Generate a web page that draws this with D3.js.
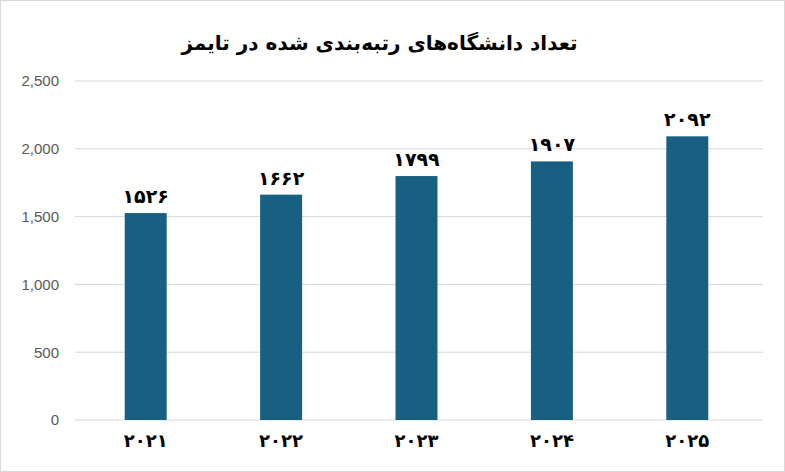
<!DOCTYPE html>
<html><head><meta charset="utf-8">
<script src="https://cdn.jsdelivr.net/npm/d3@7"></script>
<style>body{margin:0;background:#fff}</style>
</head><body><div id="chart"></div>
<script>
// chart data
const years = ["۲۰۲۱", "۲۰۲۲", "۲۰۲۳", "۲۰۲۴", "۲۰۲۵"];
const counts = [1526, 1662, 1799, 1907, 2092];
const countLabels = ["۱۵۲۶", "۱۶۶۲", "۱۷۹۹", "۱۹۰۷", "۲۰۹۲"];
const yTicks = [0, 500, 1000, 1500, 2000, 2500];

const width = 785, height = 472;
const margin = {top: 81, right: 22, bottom: 52, left: 78};

const svg = d3.select("#chart").append("svg")
  .attr("width", width).attr("height", height);

svg.append("rect").attr("x", 0.5).attr("y", 0.5)
  .attr("width", width - 1).attr("height", height - 1)
  .attr("fill", "#fff").attr("stroke", "#d9d9d9");

svg.append("text")
  .attr("x", width / 2 - 13).attr("y", 50)
  .attr("text-anchor", "middle")
  .style("font-family", "'DejaVu Sans', 'Noto Sans'")
  .style("font-weight", "bold").style("font-size", "20px")
  .attr("direction", "rtl")
  .text("تعداد دانشگاه‌های رتبه‌بندی شده در تایمز");

const x = d3.scaleBand(d3.range(years.length), [margin.left, width - margin.right - 8])
  .paddingInner(0.69).paddingOuter(0.345);
const y = d3.scaleLinear([0, 2500], [height - margin.bottom, margin.top]);

// gridlines
svg.append("g").selectAll("line").data(yTicks).join("line")
  .attr("x1", margin.left - 3).attr("x2", width - margin.right)
  .attr("y1", d => y(d)).attr("y2", d => y(d))
  .attr("stroke", "#d9d9d9");

const yAxis = svg.append("g")
  .attr("transform", `translate(${margin.left - 16},0)`)
  .call(d3.axisLeft(y).tickValues(yTicks).tickSize(0).tickFormat(d3.format(",")));
yAxis.select(".domain").remove();
yAxis.selectAll("text").style("font-family", "'Liberation Sans', Arial")
  .style("font-size", "15px").attr("fill", "#595959");

svg.append("g").selectAll("rect").data(counts).join("rect")
  .attr("x", (d, i) => x(i)).attr("width", x.bandwidth())
  .attr("y", d => y(d)).attr("height", d => y(0) - y(d))
  .attr("fill", "#176081");

svg.append("g").selectAll("text").data(counts).join("text")
  .attr("x", (d, i) => x(i) + x.bandwidth() / 2)
  .attr("y", d => y(d) - 10)
  .attr("text-anchor", "middle")
  .style("font-family", "'DejaVu Sans'").style("font-weight", "bold").style("font-size", "19px")
  .text((d, i) => countLabels[i]);

svg.append("g").selectAll("text").data(years).join("text")
  .attr("x", (d, i) => x(i) + x.bandwidth() / 2)
  .attr("y", height - margin.bottom + 27)
  .attr("text-anchor", "middle")
  .style("font-family", "'DejaVu Sans'").style("font-weight", "bold").style("font-size", "18px")
  .text(d => d);
</script></body></html>
